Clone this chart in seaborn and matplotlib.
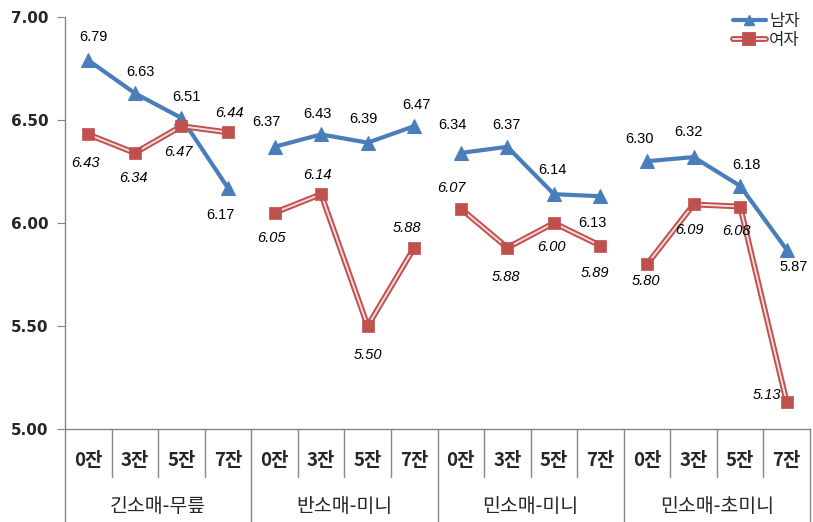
import matplotlib
matplotlib.use("Agg")
import matplotlib.pyplot as plt
import matplotlib.patheffects as pe
from matplotlib.lines import Line2D
import matplotlib.transforms as mtransforms
import seaborn as sns
import pandas as pd

sns.set_style("white")
plt.rcParams['font.family'] = ['Noto Sans CJK KR', 'DejaVu Sans']

groups = ["긴소매-무릎", "반소매-미니", "민소매-미니", "민소매-초미니"]
subcats = ["0잔", "3잔", "5잔", "7잔"]
male = [6.79, 6.63, 6.51, 6.17, 6.37, 6.43, 6.39, 6.47,
        6.34, 6.37, 6.14, 6.13, 6.30, 6.32, 6.18, 5.87]
female = [6.43, 6.34, 6.47, 6.44, 6.05, 6.14, 5.50, 5.88,
          6.07, 5.88, 6.00, 5.89, 5.80, 6.09, 6.08, 5.13]
series_names = ["남자", "여자"]
yticks = [5.00, 5.50, 6.00, 6.50, 7.00]

# label offsets in pixels (dx, dy up)
male_off = [(5, 23), (6, 21), (5, 21), (-8, -27),
            (-8, 25), (-4, 20), (-4, 24), (2, 21),
            (-8, 28), (-1, 22), (-1, 24), (-8, -27),
            (-8, 22), (-5, 25), (6, 21), (7, -17)]
female_off = [(-3, -29), (-1, -25), (-3, -26), (1, 19),
              (-3, -25), (-4, 19), (0, -29), (-7, 20),
              (-9, 21), (-1, -29), (-2, -24), (-6, -27),
              (-1, -17), (-4, -26), (-4, -24), (-20, 7)]

rows = []
for i in range(16):
    g = groups[i // 4]
    rows.append(dict(x=i, value=male[i], series=series_names[0], group=g))
    rows.append(dict(x=i, value=female[i], series=series_names[1], group=g))
df = pd.DataFrame(rows)

blue = "#4A7EBB"
red = "#C0504D"
pink = "#F2DCDB"

fig = plt.figure(figsize=(8.13, 5.22), dpi=100)
ax = fig.add_axes([65 / 813, 93 / 522, (810 - 65) / 813, (429 - 17) / 522])

for g in groups:
    dm = df[(df.group == g) & (df.series == series_names[0])]
    dfe = df[(df.group == g) & (df.series == series_names[1])]
    sns.lineplot(data=dm, x="x", y="value", ax=ax, color=blue, lw=3,
                 marker="^", markersize=10, markeredgecolor=blue,
                 estimator=None, sort=False, legend=False)
    sns.lineplot(data=dfe, x="x", y="value", ax=ax, color=pink, lw=1.4,
                 estimator=None, sort=False, legend=False,
                 path_effects=[pe.Stroke(linewidth=4.2, foreground=red), pe.Normal()])
    sns.scatterplot(data=dfe, x="x", y="value", ax=ax, color=red, marker="s",
                    s=80, edgecolor=red, linewidth=0.5, legend=False, zorder=5)

num_font = ['Liberation Sans', 'DejaVu Sans']
for i in range(16):
    ax.annotate(f"{male[i]:.2f}", (i, male[i]), xytext=male_off[i],
                textcoords="offset pixels", ha="center", va="center",
                fontsize=10.5, family=num_font, color="black")
    ax.annotate(f"{female[i]:.2f}", (i, female[i]), xytext=female_off[i],
                textcoords="offset pixels", ha="center", va="center",
                fontsize=10.5, family=num_font, style="italic", color="black")

ax.set_xlim(-0.5, 15.5)
ax.set_ylim(5.0, 7.0)
ax.set_yticks(yticks)
ax.set_yticklabels([f"{v:.2f}" for v in yticks], fontsize=11, fontweight="bold",
                   family=['DejaVu Sans'])
ax.set_xticks([])
ax.set_xlabel("")
ax.set_ylabel("")
ax.tick_params(axis="y", length=6, color="#868686", left=True, pad=6)
for s in ["top", "right"]:
    ax.spines[s].set_visible(False)
for s in ["left", "bottom"]:
    ax.spines[s].set_color("#868686")
    ax.spines[s].set_linewidth(1)

trans = mtransforms.blended_transform_factory(ax.transData, ax.transAxes)
ah = (429 - 17)
short_y = -48 / ah
long_y = -95 / ah
for k in range(17):
    xb = k - 0.5
    y0 = long_y if k % 4 == 0 else short_y
    ax.plot([xb, xb], [0, y0], transform=trans, color="#868686", lw=1, clip_on=False)
for i in range(16):
    ax.text(i, -31 / ah, subcats[i % 4], transform=trans, ha="center", va="center",
            fontsize=13.5, fontweight="bold")
for j, g in enumerate(groups):
    ax.text(j * 4 + 1.5, -77 / ah, g, transform=trans, ha="center", va="center",
            fontsize=14, fontweight="medium")

handles = [Line2D([], [], color=blue, lw=3, marker="^", markersize=7),
           Line2D([], [], color=pink, lw=1.4, marker="s", markersize=6,
                  markerfacecolor=red, markeredgecolor=red,
                  path_effects=[pe.Stroke(linewidth=4.2, foreground=red), pe.Normal()])]
leg = ax.legend(handles, series_names, loc="upper right", bbox_to_anchor=(1.0, 1.035),
                frameon=False, fontsize=12, handlelength=2.0, handletextpad=0.2,
                labelspacing=0.12, borderaxespad=0.2)

fig.savefig("out.png", dpi=100)
